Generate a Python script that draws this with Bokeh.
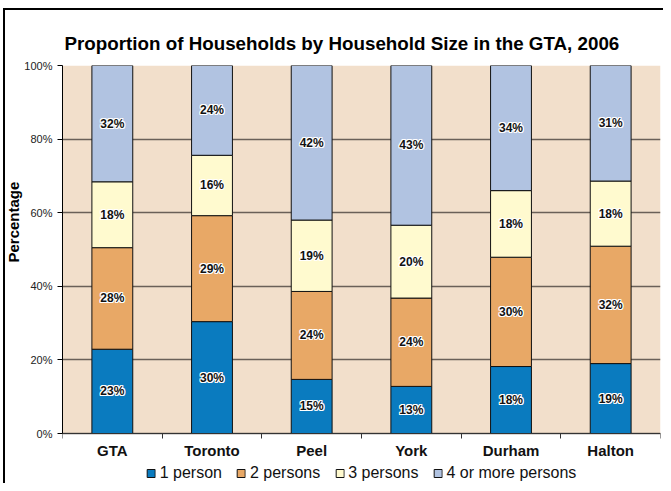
import numpy as np
from bokeh.plotting import figure
from bokeh.models import (ColumnDataSource, FixedTicker, PrintfTickFormatter, Range1d,
                          Legend, Title, BoxAnnotation)
from bokeh.core.properties import value
from bokeh.embed import file_html
from bokeh.resources import INLINE

categories = ["GTA", "Toronto", "Peel", "York", "Durham", "Halton"]
one_person = [22.9, 30.4, 14.7, 12.8, 18.2, 19.0]
two_persons = [27.6, 28.8, 23.9, 24.0, 29.7, 31.9]
three_persons = [17.9, 16.4, 19.4, 19.8, 18.1, 17.7]
four_plus = [31.6, 24.4, 42.0, 43.4, 34.0, 31.4]
series_names = ["1 person", "2 persons", "3 persons", "4 or more persons"]
y_ticks = [0, 20, 40, 60, 80, 100]

colors = ["#0A7BBF", "#E8A866", "#FFFACF", "#B1C3E1"]
FONT = "Liberation Sans"

xs = [i + 0.5 for i in range(len(categories))]
keys = ["s1", "s2", "s3", "s4"]
data = dict(x=xs, s1=one_person, s2=two_persons, s3=three_persons, s4=four_plus)
source = ColumnDataSource(data)

frame_border = {
    "background-color": "white",
    "background-image": "linear-gradient(black, black), linear-gradient(black, black)",
    "background-size": "2px 100%, 100% 2px",
    "background-position": "3px 8px, 3px 8px",
    "background-repeat": "no-repeat",
}

# frame: plot area 368 px tall for 0..100, plus 50 px below for axis labels and legend
PLOT_H = 368.0
BELOW = 50.0
y_low = -BELOW / PLOT_H * 100

p = figure(width=663, height=483, output_backend="svg", toolbar_location=None,
           x_range=Range1d(0, len(categories)), y_range=Range1d(y_low, 100),
           min_border_left=62, min_border_right=3, min_border_top=65, min_border_bottom=0,
           background_fill_color="white", border_fill_alpha=0, outline_line_color=None,
           styles=frame_border)

p.add_layout(BoxAnnotation(bottom=0, top=100, fill_color="#F2DFCB", fill_alpha=1,
                           line_color=None, level="image"))

p.title.text = "Proportion of Households by Household Size in the GTA, 2006"
p.title.align = "left"
p.title.offset = 2
p.title.text_font = FONT
p.title.text_font_size = "18.8px"
p.title.text_font_style = "bold"
p.title.text_color = "black"
p.title.standoff = 24

renderers = p.vbar_stack(keys, x="x", width=0.41, source=source, fill_color=colors,
                         line_color="#111111", line_width=1)

# value labels with white halo
stack = np.array([one_person, two_persons, three_persons, four_plus])
bottoms = np.vstack([np.zeros(stack.shape[1]), np.cumsum(stack, axis=0)[:-1]])
mids = bottoms + stack / 2
lx, ly, lt = [], [], []
for si in range(stack.shape[0]):
    for ci in range(stack.shape[1]):
        lx.append(xs[ci])
        ly.append(mids[si, ci])
        lt.append("%d%%" % int(round(stack[si, ci])))
lsrc = ColumnDataSource(dict(x=lx, y=ly, t=lt))
for dx, dy in [(-1, 0), (1, 0), (0, -1), (0, 1), (-1, -1), (1, 1), (-1, 1), (1, -1)]:
    p.text(x="x", y="y", text="t", source=lsrc, text_align="center", text_baseline="middle",
           text_font=value(FONT), text_font_size="12px", text_font_style="bold",
           text_color="white", x_offset=dx, y_offset=dy)
p.text(x="x", y="y", text="t", source=lsrc, text_align="center", text_baseline="middle",
       text_font=value(FONT), text_font_size="12px", text_font_style="bold",
       text_color="#111111")

# grid
p.xgrid.visible = False
p.ygrid.ticker = FixedTicker(ticks=y_ticks)
p.ygrid.grid_line_color = "#6A6058"
p.ygrid.grid_line_width = 1.3

# y axis
p.yaxis.ticker = FixedTicker(ticks=y_ticks)
p.yaxis.bounds = (0, 100)
p.yaxis.formatter = PrintfTickFormatter(format="%d%%")
p.yaxis.major_label_text_font = FONT
p.yaxis.major_label_text_font_size = "11px"
p.yaxis.major_label_text_color = "#222222"
p.yaxis.major_tick_out = 5
p.yaxis.major_tick_in = 0
p.yaxis.minor_tick_line_color = None
p.yaxis.axis_line_color = "black"
p.yaxis.major_tick_line_color = "black"
p.yaxis.major_label_standoff = 5

# x axis at y=0: ticks at category boundaries, labels at centers
p.xaxis.fixed_location = 0
p.xaxis.ticker = FixedTicker(ticks=xs, minor_ticks=list(range(len(categories) + 1)))
p.xaxis.major_label_overrides = {x: c for x, c in zip(xs, categories)}
p.xaxis.major_tick_line_color = None
p.xaxis.major_tick_out = 0
p.xaxis.major_tick_in = 0
p.xaxis.minor_tick_out = 5
p.xaxis.minor_tick_in = 0
p.xaxis.minor_tick_line_color = "#333333"
p.xaxis.axis_line_color = "#333333"
p.xaxis.major_label_text_font = FONT
p.xaxis.major_label_text_font_size = "15px"
p.xaxis.major_label_text_font_style = "bold"
p.xaxis.major_label_text_color = "#111111"
p.xaxis.major_label_standoff = 3

# y axis title as a side title so it can be shifted along the axis
ytitle = Title(text="Percentage", align="left", offset=221, text_font=FONT,
               text_font_size="15px", text_font_style="bold", text_color="black",
               standoff=0)
p.add_layout(ytitle, "left")

legend = Legend(items=[(n, [r]) for n, r in zip(series_names, renderers)],
                orientation="horizontal", location="bottom_center",
                label_text_font=FONT, label_text_font_size="16px", label_text_color="#111111",
                glyph_width=10, glyph_height=10, label_standoff=4, spacing=14,
                padding=2, margin=1, border_line_color=None, background_fill_alpha=0)
p.add_layout(legend, "center")

open("out.html", "w").write(file_html(p, INLINE))
